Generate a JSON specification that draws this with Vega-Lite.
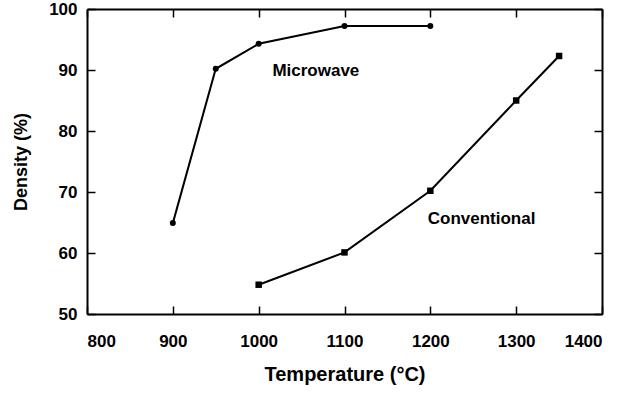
{
  "$schema": "https://vega.github.io/schema/vega-lite/v6.json",
  "width": 515,
  "height": 305,
  "autosize": "none",
  "padding": {"left": 87, "top": 9, "right": 16, "bottom": 79},
  "background": "white",
  "config": {
    "view": {"stroke": null},
    "font": "Liberation Sans",
    "axis": {
      "grid": false,
      "domainColor": "black",
      "domainWidth": 2,
      "tickColor": "black",
      "tickWidth": 1.5,
      "tickSize": -8,
      "labelFont": "Liberation Sans",
      "labelFontWeight": "bold",
      "labelFontSize": 17,
      "labelColor": "black",
      "titleFont": "Liberation Sans",
      "titleFontWeight": "bold",
      "titleColor": "black",
      "format": "d"
    }
  },
  "data": {
    "values": [
      {"series": "Microwave", "temp": 900, "density": 64.9},
      {"series": "Microwave", "temp": 950, "density": 90.2},
      {"series": "Microwave", "temp": 1000, "density": 94.3},
      {"series": "Microwave", "temp": 1100, "density": 97.2},
      {"series": "Microwave", "temp": 1200, "density": 97.2},
      {"series": "Conventional", "temp": 1000, "density": 54.8},
      {"series": "Conventional", "temp": 1100, "density": 60.1},
      {"series": "Conventional", "temp": 1200, "density": 70.2},
      {"series": "Conventional", "temp": 1300, "density": 85.0},
      {"series": "Conventional", "temp": 1350, "density": 92.3}
    ]
  },
  "layer": [
    {
      "mark": {"type": "line", "color": "black", "strokeWidth": 2},
      "encoding": {
        "x": {
          "field": "temp", "type": "quantitative",
          "scale": {"domain": [800, 1400], "nice": false, "zero": false},
          "axis": {"orient": "bottom", "values": [800, 900, 1000, 1100, 1200, 1300, 1400], "labelPadding": 27, "title": "Temperature (°C)", "titleFontSize": 20, "titlePadding": 15}
        },
        "y": {
          "field": "density", "type": "quantitative",
          "scale": {"domain": [50, 100], "nice": false, "zero": false},
          "axis": {"orient": "left", "values": [50, 60, 70, 80, 90, 100], "labelPadding": 18, "title": "Density (%)", "titleFontSize": 18, "titlePadding": 18}
        },
        "detail": {"field": "series"}
      }
    },
    {
      "mark": {"type": "point", "filled": true, "color": "black", "opacity": 1},
      "encoding": {
        "x": {
          "field": "temp", "type": "quantitative",
          "axis": {"orient": "top", "values": [800, 900, 1000, 1100, 1200, 1300, 1400], "labels": false, "title": null}
        },
        "y": {
          "field": "density", "type": "quantitative",
          "axis": {"orient": "right", "values": [50, 60, 70, 80, 90, 100], "labels": false, "title": null}
        },
        "shape": {"field": "series", "type": "nominal", "scale": {"domain": ["Conventional", "Microwave"], "range": ["square", "circle"]}, "legend": null},
        "size": {"field": "series", "type": "nominal", "scale": {"domain": ["Conventional", "Microwave"], "range": [42, 36]}, "legend": null}
      }
    },
    {
      "data": {
        "values": [
          {"label": "Microwave", "temp": 1016, "density": 89.8},
          {"label": "Conventional", "temp": 1197, "density": 65.6}
        ]
      },
      "mark": {"type": "text", "align": "left", "baseline": "middle", "font": "Liberation Sans", "fontWeight": "bold", "fontSize": 17, "color": "black"},
      "encoding": {
        "x": {"field": "temp", "type": "quantitative", "axis": null},
        "y": {"field": "density", "type": "quantitative", "axis": null},
        "text": {"field": "label"}
      }
    }
  ],
  "resolve": {"axis": {"x": "independent", "y": "independent"}}
}
